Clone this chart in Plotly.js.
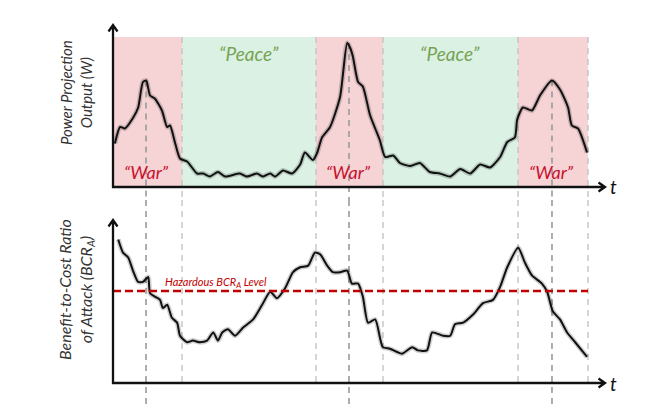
<!DOCTYPE html>
<html>
<head>
<meta charset="utf-8">
<script src="https://cdn.plot.ly/plotly-3.0.1.min.js"></script>
<style>html,body{margin:0;padding:0;background:#fff;}#chart{width:655px;height:405px;}</style>
</head>
<body>
<div id="chart"></div>
<script>
// Time axis (t from 0 to 100, arbitrary units)
const powerT = [0.4,1.5,2.5,4.2,5.3,6.3,7.0,7.8,8.8,10.3,11.4,12.0,13.1,14.1,15.6,17.7,19.0,20.4,22.1,23.6,26.7,28.2,30.3,31.6,33.1,34.1,35.8,37.7,39.4,40.4,42.1,43.0,44.0,45.7,47.8,49.3,49.9,50.5,51.6,52.6,54.1,55.2,56.2,57.3,59.0,60.4,62.5,64.6,66.7,68.8,71.0,73.1,75.2,77.3,79.4,81.5,83.0,84.6,85.1,86.3,88.2,89.9,92.4,94.1,95.8,96.6,97.9,99.8];
const powerW = [29,40,39,46,53,70,71,61,59,51,40,41,29,19,17,9,9,7,10,7,9,7,9,7,9,7,11,9,15,23,18,23,33,40,60,96,93,87,70,67,48,39,31,20,21,16,14,16,10,9,7,12,9,15,13,20,30,33,45,53,51,61,71,65,53,41,39,23];

const bcrT = [1.1,2.1,3.2,4.2,5.3,6.3,7.4,7.8,8.8,9.9,10.5,11.4,12.4,13.5,14.1,15.6,16.8,18.3,19.8,21.1,22.1,23.0,24.2,25.7,27.4,29.5,31.4,33.1,34.5,36.2,37.9,39.4,41.1,42.5,43.6,45.1,46.3,47.8,49.3,50.3,51.6,52.6,53.7,55.2,56.8,58.3,60.8,63.0,64.2,66.1,67.2,69.5,71.0,72.0,73.7,75.8,77.9,80.0,81.5,83.0,85.3,86.7,88.2,90.3,91.4,92.6,94.1,95.6,97.3,99.8];
const bcrA = [88,80,77,69,62,62,65,55,53,51,46,48,40,37,29,25,26,25,26,31,26,31,33,29,34,39,48,56,52,58,68,71,72,80,79,72,68,68,69,61,61,53,37,39,22,21,18,22,20,20,31,29,29,36,37,42,49,51,59,71,83,74,66,61,56,44,39,31,25,16];

const hazardLevel = 56.4;
const warStart = [0, 42.74, 85.26];
const warEnd   = [14.53, 56.84, 100];
const peaceStart = [14.53, 56.84];
const peaceEnd   = [42.74, 85.26];
const peakT = [6.95, 49.68, 92.42];
const peakW = [71, 96, 71];
const boundaryT = [14.53, 42.74, 56.84, 85.26, 100];

const warLabel = '\u201cWar\u201d';
const peaceLabel = '\u201cPeace\u201d';
const topTitle = 'Power Projection<br>Output (W)';
const botTitle = 'Benefit-to-Cost Ratio<br>of Attack (BCR<sub>A</sub>)';
const hazardLabel = 'Hazardous BCR<sub>A</sub> Level';

const W = 655, H = 405;
const px = v => v / W;
const py = v => 1 - v / H;

const TOPR = [-8.667, 114.667];
const BOTR = [-13.5, 112.27];
const XR = [-2.737, 107.79];

const shapes = [];
warStart.forEach((s, i) => shapes.push({type:'rect', xref:'x', yref:'y', x0:s, x1:warEnd[i], y0:0, y1:100, fillcolor:'#f6d4d6', line:{width:0}, layer:'below'}));
peaceStart.forEach((s, i) => shapes.push({type:'rect', xref:'x', yref:'y', x0:s, x1:peaceEnd[i], y0:0, y1:100, fillcolor:'#dbf1e4', line:{width:0}, layer:'below'}));
boundaryT.forEach(t => {
  shapes.push({type:'line', xref:'x', yref:'y', x0:t, x1:t, y0:100, y1:TOPR[0], line:{color:'#c4c4c4', width:1.4, dash:'6px,5px'}, layer:'below'});
  shapes.push({type:'line', xref:'x', yref:'y2', x0:t, x1:t, y0:BOTR[1], y1:-1, line:{color:'#c4c4c4', width:1.4, dash:'6px,5px'}, layer:'below'});
});
peakT.forEach((t, i) => {
  shapes.push({type:'line', xref:'x', yref:'y', x0:t, x1:t, y0:peakW[i], y1:TOPR[0], line:{color:'#9a9a9a', width:1.6, dash:'6px,5px'}, layer:'below'});
  shapes.push({type:'line', xref:'x', yref:'y2', x0:t, x1:t, y0:BOTR[1], y1:BOTR[0], line:{color:'#9a9a9a', width:1.6, dash:'6px,5px'}, layer:'below'});
});
shapes.push({type:'line', xref:'x', yref:'y2', x0:0, x1:100, y0:hazardLevel, y1:hazardLevel, line:{color:'#c00000', width:2.6, dash:'8px,4px'}});

// axis lines with open arrow heads (pixel layout positions -> paper)
function P(x, y) { return px(x).toFixed(5) + ',' + py(y).toFixed(5); }
function axisPath(ox, oy, topY, rightX) {
  return 'M' + P(ox, topY) + 'L' + P(ox, oy) + 'L' + P(rightX, oy) +
         'M' + P(ox - 4.5, topY + 6.5) + 'L' + P(ox, topY) + 'L' + P(ox + 4.5, topY + 6.5) +
         'M' + P(rightX - 6.5, oy - 4.5) + 'L' + P(rightX, oy) + 'L' + P(rightX - 6.5, oy + 4.5);
}
shapes.push({type:'path', xref:'paper', yref:'paper', path:axisPath(113, 187, 25, 605), line:{color:'#111', width:2.3}});
shapes.push({type:'path', xref:'paper', yref:'paper', path:axisPath(113, 383, 220, 605), line:{color:'#111', width:2.3}});

const fontFam = 'Lato, "Open Sans", sans-serif';
const annotations = [];
annotations.push({xref:'paper', yref:'paper', x:px(613), y:py(187), xanchor:'center', yanchor:'middle', text:'<i>t</i>', showarrow:false, font:{family:fontFam, size:19, color:'#111'}});
annotations.push({xref:'paper', yref:'paper', x:px(613), y:py(383), xanchor:'center', yanchor:'middle', text:'<i>t</i>', showarrow:false, font:{family:fontFam, size:19, color:'#111'}});
peakT.forEach(t => annotations.push({xref:'x', yref:'y', x:t, y:10, xanchor:'center', yanchor:'middle', text:'<i>' + warLabel + '</i>', showarrow:false, font:{family:fontFam, size:18, color:'#c8102e'}}));
[28.6, 71.0].forEach(t => annotations.push({xref:'x', yref:'y', x:t, y:89, xanchor:'center', yanchor:'middle', text:'<i>' + peaceLabel + '</i>', showarrow:false, font:{family:fontFam, size:19, color:'#76a353'}}));
annotations.push({xref:'paper', yref:'paper', x:px(76), y:py(93), xanchor:'center', yanchor:'middle', text:'<i>' + topTitle + '</i>', textangle:-90, showarrow:false, font:{family:fontFam, size:15, color:'#333'}});
annotations.push({xref:'paper', yref:'paper', x:px(76), y:py(290), xanchor:'center', yanchor:'middle', text:'<i>' + botTitle + '</i>', textangle:-90, showarrow:false, font:{family:fontFam, size:16, color:'#333'}});
annotations.push({xref:'x', yref:'y2', x:10.6, y:hazardLevel, yanchor:'bottom', xanchor:'left', yshift:-1, text:'<i>' + hazardLabel + '</i>', showarrow:false, font:{family:fontFam, size:11, color:'#c00000'}});

const shadow = {color:'rgba(0,0,0,0.18)', width:5, shape:'spline', smoothing:0.6};
const main = {color:'#111', width:2, shape:'spline', smoothing:0.6};
const data = [
  {x:powerT, y:powerW, xaxis:'x', yaxis:'y', mode:'lines', line:shadow, hoverinfo:'skip'},
  {x:powerT, y:powerW, xaxis:'x', yaxis:'y', mode:'lines', line:main},
  {x:bcrT, y:bcrA, xaxis:'x', yaxis:'y2', mode:'lines', line:shadow, hoverinfo:'skip'},
  {x:bcrT, y:bcrA, xaxis:'x', yaxis:'y2', mode:'lines', line:main}
];

const axOff = {showgrid:false, zeroline:false, showticklabels:false, ticks:'', showline:false, fixedrange:true};
const layout = {
  width:W, height:H, margin:{l:0, r:0, t:0, b:0},
  paper_bgcolor:'#fff', plot_bgcolor:'rgba(0,0,0,0)', showlegend:false,
  xaxis:Object.assign({}, axOff, {domain:[px(100), px(625)], range:XR, anchor:'y2'}),
  yaxis:Object.assign({}, axOff, {domain:[py(200), py(15)], range:TOPR}),
  yaxis2:Object.assign({}, axOff, {domain:[py(405), py(200)], range:BOTR}),
  shapes:shapes, annotations:annotations
};
Plotly.newPlot('chart', data, layout, {staticPlot:true, displayModeBar:false});
</script>
</body>
</html>
